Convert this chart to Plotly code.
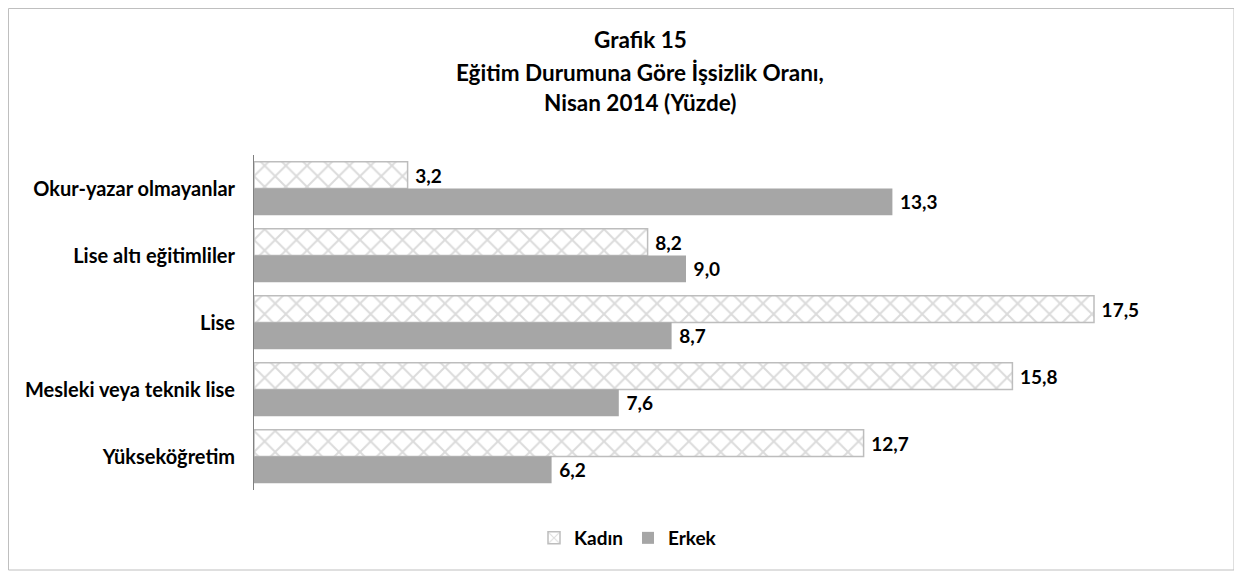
import plotly.graph_objects as go

categories = ["Okur-yazar olmayanlar", "Lise altı eğitimliler", "Lise",
              "Mesleki veya teknik lise", "Yükseköğretim"]
kadin = [3.2, 8.2, 17.5, 15.8, 12.7]
erkek = [13.3, 9.0, 8.7, 7.6, 6.2]
title_lines = ["Grafik 15", "Eğitim Durumuna Göre İşsizlik Oranı,", "Nisan 2014 (Yüzde)"]

FONT = "Lato"
# sayfa govdesi 8px kaydiriyor, o yuzden figur biraz kucuk
W, H = 1234, 569
L, R, T, B = 246, 28, 147, 87
pw, ph = W - L - R, H - T - B

fig = go.Figure()

fig.add_trace(go.Bar(
    y=categories, x=kadin, name="Kadın", orientation="h",
    marker=dict(color="white", line=dict(color="#bdbdbd", width=1.5),
                pattern=dict(shape="x", fgcolor="#b8b8b8", bgcolor="white", size=15, solidity=0.25)),
    texttemplate=" %{x:.1f}", textposition="outside", cliponaxis=False,
    textfont=dict(family=FONT, size=19, color="black", weight="bold"),
))
fig.add_trace(go.Bar(
    y=categories, x=erkek, name="Erkek", orientation="h",
    marker=dict(color="#a6a6a6", line=dict(width=0)),
    texttemplate=" %{x:.1f}", textposition="outside", cliponaxis=False,
    textfont=dict(family=FONT, size=19, color="black", weight="bold"),
))

# baslik satirlari
for txt, ypx in zip(title_lines, [32, 64, 95]):
    fig.add_annotation(text="<b>%s</b>" % txt, xref="paper", yref="paper",
                       x=(632 - L) / pw, y=(H - B - ypx) / ph, showarrow=False, yanchor="middle",
                       font=dict(family=FONT, size=22.5, color="black"))

fig.update_layout(
    width=W, height=H,
    margin=dict(l=L, r=R, t=T, b=B),
    paper_bgcolor="white", plot_bgcolor="white",
    barmode="group", bargap=0.2, bargroupgap=0,
    separators=", ",
    showlegend=True,
    legend=dict(orientation="h", xref="container", yref="container",
                x=620 / W, y=(H - 530) / H, xanchor="center", yanchor="middle",
                font=dict(family=FONT, size=19, color="black", weight="bold"),
                itemwidth=30, traceorder="normal"),
    xaxis=dict(range=[0, 20], visible=False, fixedrange=True),
    yaxis=dict(autorange="reversed", showline=True, linecolor="#808080", linewidth=1,
               ticks="", showgrid=False, ticklabelstandoff=14,
               tickfont=dict(family=FONT, size=20, color="black", weight="bold")),
    shapes=[dict(type="rect", xref="paper", yref="paper",
                 x0=(0.5 - L) / pw, x1=(1226 - L) / pw,
                 y0=(H - B - 562) / ph, y1=(H - B - 0.5) / ph,
                 line=dict(color="#bfbfbf", width=1))],
)

fig.write_html("out.html")
